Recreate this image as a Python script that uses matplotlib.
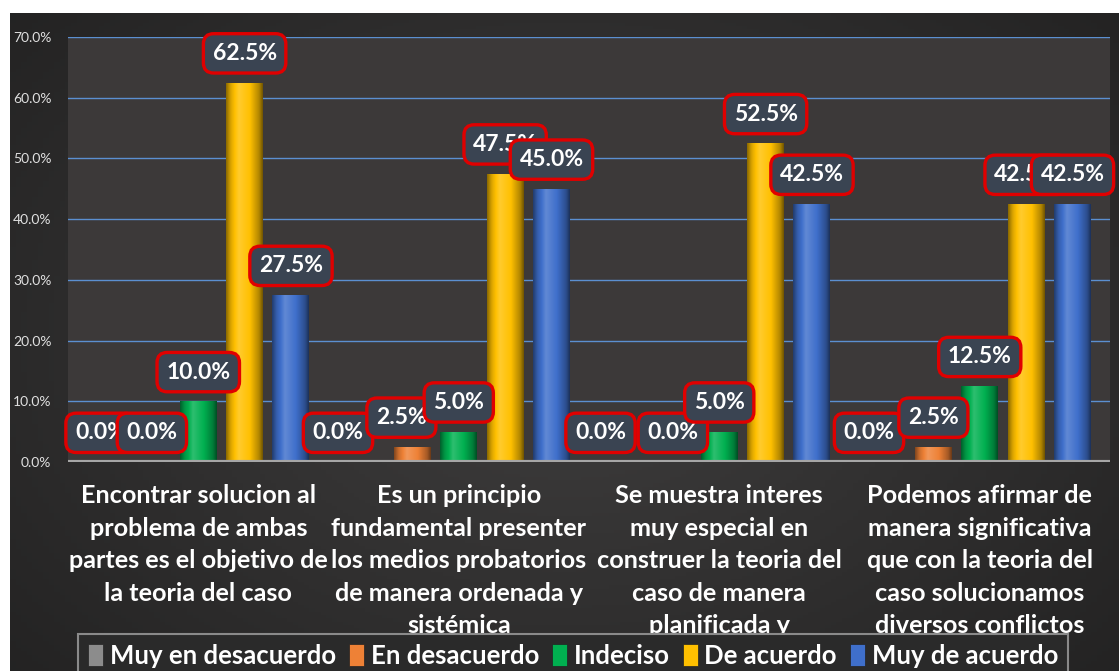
import numpy as np
import matplotlib
matplotlib.use("Agg")
import matplotlib.pyplot as plt
from matplotlib.patches import Patch
from matplotlib.colors import to_rgb

categories = [
    "Encontrar solucion al\nproblema de ambas\npartes es el objetivo de\nla teoria del caso",
    "Es un principio\nfundamental presenter\nlos medios probatorios\nde manera ordenada y\nsistémica",
    "Se muestra interes\nmuy especial en\nconstruer la teoria del\ncaso de manera\nplanificada y",
    "Podemos afirmar de\nmanera significativa\nque con la teoria del\ncaso solucionamos\ndiversos conflictos",
]
series_names = ["Muy en desacuerdo", "En desacuerdo", "Indeciso", "De acuerdo", "Muy de acuerdo"]
muy_en_desacuerdo = [0.0, 0.0, 0.0, 0.0]
en_desacuerdo = [0.0, 2.5, 0.0, 2.5]
indeciso = [10.0, 5.0, 5.0, 12.5]
de_acuerdo = [62.5, 47.5, 52.5, 42.5]
muy_de_acuerdo = [27.5, 45.0, 42.5, 42.5]
series_values = [muy_en_desacuerdo, en_desacuerdo, indeciso, de_acuerdo, muy_de_acuerdo]
colors = ["#8C8C8C", "#EE8136", "#00B050", "#FFC000", "#3F6FCB"]
yticks = [0, 10, 20, 30, 40, 50, 60, 70]

# horizontal nudges (pixels) of some data labels, as placed in the reference
label_nudge_px = {(0, 0): -5, (0, 1): -28, (0, 2): -26, (0, 3): -18, (1, 1): -11}

plt.rcParams['font.family'] = ['Lato', 'DejaVu Sans']

W, H = 1119, 671
fig = plt.figure(figsize=(W / 100, H / 100), dpi=100, facecolor="white")

# chart background
bg = fig.add_axes([10 / W, 0, 1 - 10 / W, (H - 13) / H])
bg.set_axis_off()
gy, gx = np.mgrid[0:1:200j, 0:1:200j]
r = np.sqrt(((gx - 0.5) / 0.6) ** 2 + ((gy - 0.5) / 0.7) ** 2)
shade = np.clip(0.25 - 0.10 * r, 0.1, 0.25)
bg.imshow(np.dstack([shade, shade * 0.98, shade * 0.98]), extent=[0, 1, 0, 1],
          aspect="auto", zorder=0)
bg.set_xlim(0, 1)
bg.set_ylim(0, 1)

ax = fig.add_axes([68 / W, (H - 462) / H, (1110 - 68) / W, (462 - 37) / H])
ax.set_facecolor("#3C3939")
n_groups = len(categories)
x = np.arange(n_groups)
step = 0.178
bw = 0.142

ax.set_xlim(-0.5, n_groups - 0.5)
ax.set_ylim(0, 70)
for yv in yticks[1:]:
    ax.axhline(yv, color="#5B8FD0", lw=1.0, zorder=1)

def shaded(c, t):
    c = np.array(to_rgb(c))
    prof = np.interp(t, [0, 0.12, 0.35, 0.65, 0.9, 1.0], [0.55, 0.85, 1.15, 1.0, 0.7, 0.45])
    out = np.empty(t.shape + (3,))
    for i in range(3):
        v = c[i] * prof
        v = np.where(prof > 1, c[i] + (1 - c[i]) * (prof - 1) * 1.2, v)
        out[..., i] = np.clip(v, 0, 1)
    return out

t = np.linspace(0, 1, 64)[None, :].repeat(2, axis=0)
for k, (vals, col) in enumerate(zip(series_values, colors)):
    pos = x + (k - 2) * step
    bars = ax.bar(pos, vals, width=bw, color=col, zorder=3, linewidth=0)
    img = shaded(col, t)
    for b in bars:
        if b.get_height() <= 0:
            continue
        im = ax.imshow(img, extent=[b.get_x(), b.get_x() + b.get_width(), 0, b.get_height()],
                       aspect="auto", zorder=4, interpolation="bilinear")
        im.set_clip_path(b)
    for g, (px, v) in enumerate(zip(pos, vals)):
        dx = label_nudge_px.get((k, g), 0) * 72 / 100
        ax.annotate(f"{v:.1f}%", (px, v), xytext=(dx, 21), textcoords="offset points",
                    ha="center", va="center", color="white", fontsize=16.5, fontweight="bold",
                    zorder=10,
                    bbox=dict(boxstyle="round,pad=0.4,rounding_size=0.45", fc="#3A4452",
                              ec="#E00000", lw=2.4))

# floor
ax.axhline(0, color="#A6A6A6", lw=3, zorder=5)

ax.set_yticks(yticks)
ax.set_yticklabels([f"{v:.1f}%" for v in yticks], color="#E0E0E0", fontsize=10)
ax.tick_params(axis="y", length=0, pad=12)
ax.set_xticks(x)
ax.set_xticklabels(categories, color="white", fontsize=18.2, fontweight="bold",
                   linespacing=1.5, va="top")
ax.tick_params(axis="x", length=0, pad=16)
for s in ax.spines.values():
    s.set_visible(False)

handles = [Patch(facecolor=c, edgecolor="#222222", lw=0.5) for c in colors]
leg = fig.legend(handles, series_names, loc="center", bbox_to_anchor=(573 / W, (H - 656) / H),
                 ncol=5, frameon=True, handlelength=0.6, handleheight=0.9,
                 handletextpad=0.25, columnspacing=0.5, borderpad=0.2, labelcolor="white",
                 prop={"weight": "bold", "size": 18.5})
leg.get_frame().set_facecolor("#2A2A2A")
leg.get_frame().set_edgecolor("#8A8A8A")
leg.get_frame().set_linewidth(1.5)
leg.get_frame().set_alpha(1)
leg.get_frame().set_boxstyle("square,pad=0.2")
leg.set_zorder(20)

fig.savefig("out.png", dpi=100, facecolor="white")
